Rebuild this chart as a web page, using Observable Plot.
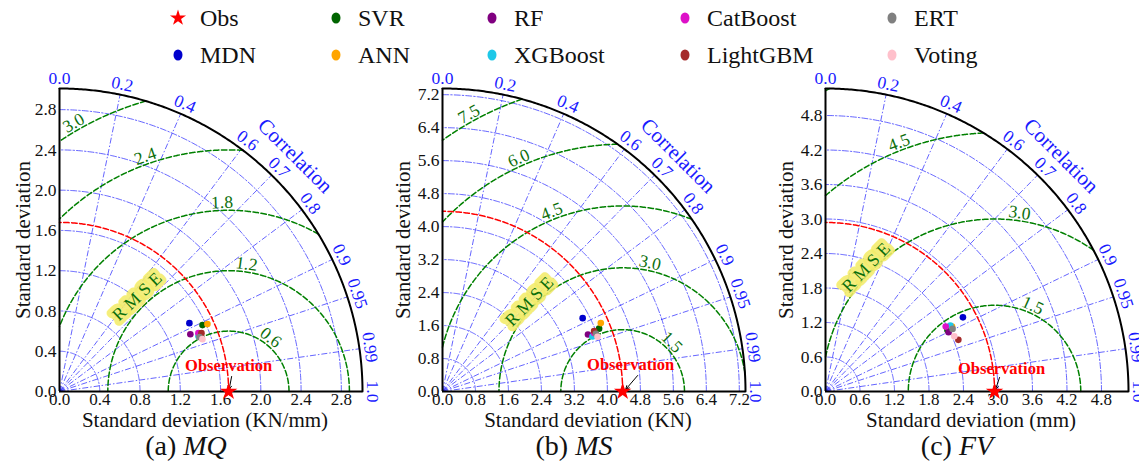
<!DOCTYPE html>
<html>
<head>
<meta charset="utf-8">
<script src="https://cdn.jsdelivr.net/npm/d3@7"></script>
<script src="https://cdn.jsdelivr.net/npm/@observablehq/plot@0.6"></script>
<style>
html,body{margin:0;padding:0;background:#fff;}
#root{position:relative;width:1139px;height:467px;overflow:hidden;font-family:"Liberation Serif","Times New Roman",serif;color:#111;}
.leg{position:absolute;font-size:24px;line-height:30px;white-space:nowrap;}
.legsym{position:absolute;overflow:visible;}
.panel{position:absolute;top:66px;}
.panel svg{overflow:visible;font-family:"Liberation Serif","Times New Roman",serif;}
.cap{position:absolute;top:428px;width:240px;text-align:center;font-size:28px;line-height:36px;}
</style>
</head>
<body>
<div id="root"></div>
<script>
// ---------- data ----------
const legendNames = ["Obs", "MDN", "SVR", "ANN", "RF", "XGBoost", "CatBoost", "LightGBM", "ERT", "Voting"];
const models = ["MDN", "SVR", "ANN", "RF", "XGBoost", "CatBoost", "LightGBM", "ERT", "Voting"];
const modelColors = ["#0000cd", "#006400", "#ffa500", "#800080", "#1ec8e8", "#dd10c8", "#a52a2a", "#808080", "#ffc0cb"];
const obsColor = "#ff0000";

const corrTicks = [0, 0.2, 0.4, 0.6, 0.7, 0.8, 0.9, 0.95, 0.99, 1.0];

// (a) MQ
const obsMQ = 1.68;
const stdMQ  = [1.458, 1.566, 1.615, 1.419, 1.486, 1.497, 1.525, 1.491, 1.512];
const corrMQ = [0.885, 0.907, 0.910, 0.916, 0.929, 0.922, 0.925, 0.932, 0.939];
const ticksMQ = [0, 0.4, 0.8, 1.2, 1.6, 2.0, 2.4, 2.8];
const rmseMQ = [0.6, 1.2, 1.8, 2.4, 3.0];

// (b) MS
const obsMS = 4.37;
const stdMS  = [3.838, 4.093, 4.183, 3.790, 3.875, 3.944, 3.959, 3.975, 3.988];
const corrMS = [0.886, 0.928, 0.918, 0.931, 0.939, 0.933, 0.929, 0.936, 0.943];
const ticksMS = [0, 0.8, 1.6, 2.4, 3.2, 4.0, 4.8, 5.6, 6.4, 7.2];
const rmseMS = [1.5, 3.0, 4.5, 6.0, 7.5];

// (c) FV
const obsFV = 2.94;
const stdFV  = [2.716, 2.375, 2.473, 2.375, 2.456, 2.376, 2.479, 2.464, 2.437];
const corrFV = [0.880, 0.893, 0.890, 0.901, 0.884, 0.880, 0.932, 0.897, 0.919];
const ticksFV = [0, 0.6, 1.2, 1.8, 2.4, 3.0, 3.6, 4.2, 4.8];
const rmseFV = [1.5, 3.0, 4.5, 6.0];

// ---------- layout / style ----------
const serif = "Liberation Serif, Times New Roman, serif";
const blue = "#1a1aff";
const green = "#008000";
const greenText = "#0b6e0b";
const R = 303;

const panels = [
  {tag: "(a) ", name: "MQ", unit: "Standard deviation (KN/mm)", M: 3.01, obs: obsMQ, std: stdMQ, corr: corrMQ,
   ticks: ticksMQ, rmse: rmseMQ, rmseAngles: [52, 82, 92, 109.5, 120], rmseTag: {level: 1.2, angle: 134, off: 11},
   left: 0, ml: 59, ylabX: 23, obsText: [0, 26], arrow: [3, 15, 0.5, 2], capX: 186},
  {tag: "(b) ", name: "MS", unit: "Standard deviation (KN)", M: 7.35, obs: obsMS, std: stdMS, corr: corrMS,
   ticks: ticksMS, rmse: rmseMS, rmseAngles: [45, 78, 111.5, 114, 119], rmseTag: {level: 3.0, angle: 136, off: 6},
   left: 380, ml: 62, ylabX: 23, obsText: [8, 27], arrow: [15, 16, 3, 2], capX: 574},
  {tag: "(c) ", name: "FV", unit: "Standard deviation (mm)", M: 5.27, obs: obsFV, std: stdFV, corr: corrFV,
   ticks: ticksFV, rmse: rmseFV, rmseAngles: [66, 82, 111, null], rmseTag: {level: 3.0, angle: 136, off: 6},
   left: 760, ml: 65, ylabX: 26, obsText: [7, 23], arrow: [5, 14, 1, 2], capX: 957}
];

const root = document.getElementById("root");

// ---------- legend ----------
const legX = [178, 336, 492, 685, 892];
const legY = [18, 55];
legendNames.forEach((name, i) => {
  const col = Math.floor(i / 2), row = i % 2;
  const cx = legX[col], cy = legY[row];
  const svg = d3.create("svg").attr("class", "legsym").attr("width", 20).attr("height", 20)
    .style("left", (cx - 10) + "px").style("top", (cy - 10) + "px");
  if (name === "Obs") {
    svg.append("path").attr("d", d3.symbol(d3.symbolStar, 80)()).attr("transform", "translate(10,10)").attr("fill", obsColor);
  } else {
    svg.append("ellipse").attr("cx", 10).attr("cy", 10).attr("rx", 4.5).attr("ry", 5.5)
      .attr("fill", modelColors[models.indexOf(name)]);
  }
  root.appendChild(svg.node());
  const t = document.createElement("div");
  t.className = "leg";
  t.textContent = name;
  t.style.left = (cx + 22) + "px";
  t.style.top = (cy - 15) + "px";
  root.appendChild(t);
});

// ---------- Taylor diagrams ----------
function taylor(p) {
  const M = p.M, obs = p.obs, k = R / M;
  const ml = p.ml, mr = 380 - ml - R, mt = 22, mb = 40;
  const arcPts = (cx, r, t0, t1, z, n = 240) => d3.range(n + 1).map(i => {
    const t = t0 + (t1 - t0) * i / n;
    return {x: cx + r * Math.cos(t), y: r * Math.sin(t), z};
  });
  const stdArcs = p.ticks.filter(t => t > 0).flatMap(t => arcPts(0, t, 0, Math.PI / 2, t));
  const rmseArcs = p.rmse.flatMap(r => {
    const c0 = (M * M - obs * obs - r * r) / (2 * obs * r);
    const t0 = Math.acos(Math.max(-1, Math.min(1, c0)));
    const t1 = Math.acos(Math.max(-1, Math.min(1, -obs / r)));
    return t1 > t0 ? arcPts(obs, r, t0, t1, r) : [];
  });
  const obsArc = arcPts(0, obs, 0, Math.PI / 2, 0);
  const outerArc = arcPts(0, M, 0, Math.PI / 2, 0);
  const corrGrid = corrTicks.filter(c => c > 0 && c < 1);
  const pts = models.map((m, i) => ({
    model: m, color: modelColors[i],
    x: p.std[i] * p.corr[i],
    y: p.std[i] * Math.sqrt(1 - p.corr[i] ** 2)
  }));
  const rmseLab = p.rmse.map((r, i) => ({r, a: p.rmseAngles[i]})).filter(d => d.a != null).map(d => {
    const rr = d.r + 8 / k, a = d.a * Math.PI / 180;
    return {x: obs + rr * Math.cos(a), y: rr * Math.sin(a), rot: 90 - d.a, text: d.r.toFixed(1)};
  });
  const tg = p.rmseTag, ta = tg.angle * Math.PI / 180, tr = tg.level + tg.off / k;
  const tag = {x: obs + tr * Math.cos(ta), y: tr * Math.sin(ta), rot: 90 - tg.angle};
  const fmt = d => d.toFixed(1);
  const corrFmt = c => (c === 0 ? "0.0" : c === 1 ? "1.0" : String(c));
  const T = {fontFamily: serif};

  return Plot.plot({
    width: ml + R + mr, height: mt + R + mb,
    marginLeft: ml, marginRight: mr, marginTop: mt, marginBottom: mb,
    x: {domain: [0, M]}, y: {domain: [0, M]},
    color: {type: "identity"},
    style: "font-family: 'Liberation Serif', 'Times New Roman', serif; font-size: 17px; color: #111; background: transparent; overflow: visible;",
    marks: [
      Plot.line(stdArcs, {x: "x", y: "y", z: "z", stroke: blue, strokeOpacity: 0.85, strokeWidth: 0.8, strokeDasharray: "6,2,1.5,2"}),
      Plot.link(corrGrid, {x1: 0, y1: 0, x2: c => M * c, y2: c => M * Math.sqrt(1 - c * c), stroke: blue, strokeOpacity: 0.85, strokeWidth: 0.8, strokeDasharray: "6,2,1.5,2"}),
      Plot.line(rmseArcs, {x: "x", y: "y", z: "z", stroke: green, strokeWidth: 1.5, strokeDasharray: "5.5,2.5"}),
      Plot.line(obsArc, {x: "x", y: "y", stroke: obsColor, strokeWidth: 1.5, strokeDasharray: "5.5,2.5"}),
      Plot.line(outerArc, {x: "x", y: "y", stroke: "#000", strokeWidth: 2}),
      Plot.ruleY([0], {x1: 0, x2: M, stroke: "#000", strokeWidth: 2}),
      Plot.ruleX([0], {y1: 0, y2: M, stroke: "#000", strokeWidth: 2}),
      Plot.axisX(p.ticks, {...T, anchor: "bottom", tickSize: 0, tickPadding: 1, tickFormat: fmt, label: null, fontSize: 17, fill: "#111"}),
      Plot.axisY(p.ticks, {...T, anchor: "left", tickSize: 0, tickPadding: 3, tickFormat: fmt, label: null, fontSize: 17.5, fill: "#111"}),
      Plot.text(corrTicks, {...T,
        x: c => 1.035 * M * c, y: c => 1.035 * M * Math.sqrt(1 - c * c),
        text: corrFmt, rotate: c => 90 - Math.acos(c) * 180 / Math.PI,
        fill: blue, fontSize: 17.5, textAnchor: "middle", lineAnchor: "middle"
      }),
      Plot.text(["Correlation"], {...T, x: 1.10 * M * Math.SQRT1_2, y: 1.10 * M * Math.SQRT1_2, text: d => d, rotate: 45, fill: blue, fontSize: 21}),
      Plot.text(rmseLab, {...T, x: "x", y: "y", text: "text", rotate: "rot", fill: greenText, fontSize: 17.5}),
      Plot.text(["R M S E"], {...T, x: tag.x, y: tag.y, text: d => d, rotate: tag.rot, fill: greenText, fontSize: 17.5,
        stroke: "#f3ec6a", strokeWidth: 9, strokeOpacity: 0.9}),
      Plot.text([p.unit], {...T, frameAnchor: "bottom", lineAnchor: "middle", textAnchor: "middle", dy: 29, dx: -6, text: d => d, fontSize: 21, fill: "#111"}),
      Plot.text(["Standard deviation"], {...T, frameAnchor: "left", textAnchor: "middle", lineAnchor: "middle", dx: p.ylabX - ml, rotate: -90, text: d => d, fontSize: 21, fill: "#111"}),
      Plot.arrow([obs], {
        x1: obs + p.arrow[0] / k, y1: p.arrow[1] / k,
        x2: obs + p.arrow[2] / k, y2: p.arrow[3] / k,
        stroke: "#000", strokeWidth: 1, headLength: 6, headAngle: 50
      }),
      Plot.text(["Observation"], {...T, x: obs, y: 0, dx: p.obsText[0], dy: -p.obsText[1], text: d => d,
        fill: obsColor, fontWeight: "bold", fontSize: 16.5}),
      Plot.dot(pts, {x: "x", y: "y", fill: "color", r: 3.3}),
      Plot.dot([obs], {x: d => d, y: 0, symbol: "star", fill: obsColor, r: 5.5})
    ]
  });
}

panels.forEach(p => {
  const div = document.createElement("div");
  div.className = "panel";
  div.style.left = p.left + "px";
  div.style.width = "380px";
  div.appendChild(taylor(p));
  root.appendChild(div);
  const cap = document.createElement("div");
  cap.className = "cap";
  cap.style.left = (p.capX - 120) + "px";
  cap.innerHTML = p.tag + "<i>" + p.name + "</i>";
  root.appendChild(cap);
});
</script>
</body>
</html>
